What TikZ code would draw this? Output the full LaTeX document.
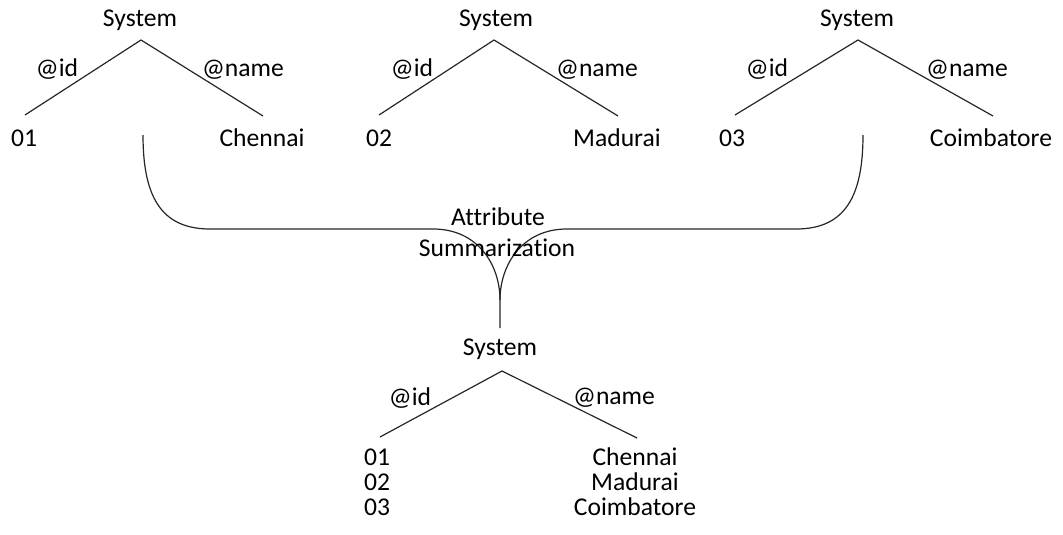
\documentclass[tikz,border=0pt]{standalone}
\usepackage{fontspec}
\setmainfont{Carlito}[Ligatures={NoCommon}]
\begin{document}
\begin{tikzpicture}[x=0.75pt,y=-0.75pt,
  lbl/.style={anchor=base,inner sep=0pt,font=\fontsize{19.2}{23}\selectfont},
  edge/.style={draw=black!85,line width=0.9pt},
  brace/.style={draw=black!85,line width=0.9pt}]
\useasboundingbox (0,0) rectangle (1063,535);

% ---- tree 1 ----
\node[lbl] (s1) at (140,27) {System};
\node[lbl] (i1) at (57,76) {@id};
\node[lbl] (n1) at (243,76) {@name};
\node[lbl] (v1) at (24,146) {01};
\node[lbl] (c1) at (262,146) {Chennai};
\coordinate (a1) at (141,40);
\coordinate (l1) at (25,115);
\coordinate (r1) at (263,116);
\draw[edge] (l1) -- (a1) -- (r1);

% ---- tree 2 ----
\node[lbl] (s2) at (496,27) {System};
\node[lbl] (i2) at (412,77) {@id};
\node[lbl] (n2) at (597,76) {@name};
\node[lbl] (v2) at (379,146) {02};
\node[lbl] (c2) at (617,146) {Madurai};
\coordinate (a2) at (494,40);
\coordinate (l2) at (379,115);
\coordinate (r2) at (618,116);
\draw[edge] (l2) -- (a2) -- (r2);

% ---- tree 3 ----
\node[lbl] (s3) at (857,27) {System};
\node[lbl] (i3) at (767,76) {@id};
\node[lbl] (n3) at (967,76) {@name};
\node[lbl] (v3) at (732,146) {03};
\node[lbl] (c3) at (991,146) {Coimbatore};
\coordinate (a3) at (858,40);
\coordinate (l3) at (735,115);
\coordinate (r3) at (993,116);
\draw[edge] (l3) -- (a3) -- (r3);

% ---- merging brace ----
\coordinate (bl) at (143,135);
\coordinate (br) at (863,135);
\coordinate (hl1) at (210,229);
\coordinate (hl2) at (433,229);
\coordinate (hr1) at (796,229);
\coordinate (hr2) at (567,229);
\coordinate (tip) at (500,300);
\coordinate (stub) at (500,328);
\draw[brace] (bl) .. controls (143,195) and (160,229) .. (hl1) -- (hl2)
  .. controls (478,229) and (500,265) .. (tip) -- (stub);
\draw[brace] (br) .. controls (863,195) and (846,229) .. (hr1) -- (hr2)
  .. controls (522,229) and (500,265) .. (tip);
\node[lbl] (t1) at (498,225) {Attribute};
\node[lbl] (t2) at (497,256) {Summarization};

% ---- merged tree ----
\node[lbl] (s4) at (500,355) {System};
\node[lbl] (i4) at (410,405) {@id};
\node[lbl] (n4) at (614,404) {@name};
\node[lbl] (v41) at (377,465) {01};
\node[lbl] (v42) at (377,490) {02};
\node[lbl] (v43) at (377,515) {03};
\node[lbl] (c41) at (635,465) {Chennai};
\node[lbl] (c42) at (635,490) {Madurai};
\node[lbl] (c43) at (635,515) {Coimbatore};
\coordinate (a4) at (502,371);
\coordinate (l4) at (380,437);
\coordinate (r4) at (637,438);
\draw[edge] (l4) -- (a4) -- (r4);
\end{tikzpicture}
\end{document}
